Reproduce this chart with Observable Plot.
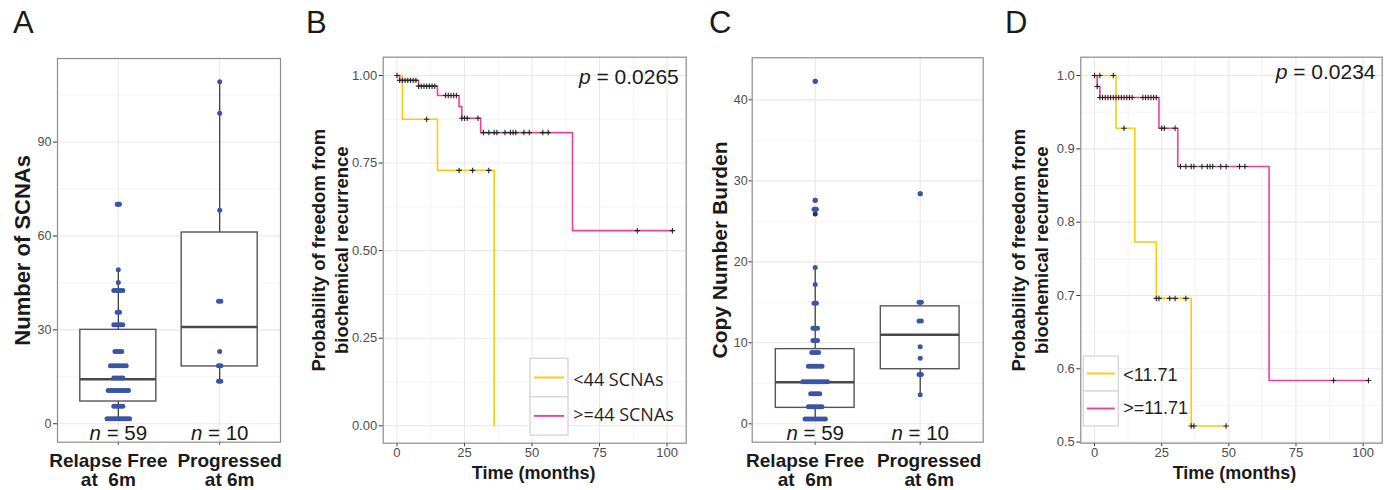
<!DOCTYPE html>
<html><head><meta charset="utf-8">
<script src="https://cdn.jsdelivr.net/npm/d3@7"></script>
<script src="https://cdn.jsdelivr.net/npm/@observablehq/plot@0.6"></script>
<style>
html,body{margin:0;padding:0;background:#fff;}
#root{position:relative;width:1390px;height:490px;overflow:hidden;}
#root > svg{position:absolute;top:0;}
#root text{white-space:pre;}
</style></head><body><div id="root"></div>
<script>
// ---------------- DATA ----------------
const panelLetters = ["A", "B", "C", "D"];
const boxCategories = ["Relapse Free\nat  6m", "Progressed\nat 6m"];

// Panel A: number of SCNAs (dot values, binned as drawn)
const scnaRelapse = [1.6,1.6,1.6,1.6,1.6,1.6,1.6,1.6,1.6,1.6,1.6,
  5.6,5.6,5.6,5.6,5.6,
  10.6,10.6,10.6,10.6,10.6,10.6,10.6,10.6,10.6,10.6,
  14.6,14.6,14.6,14.6,14.6,
  18.5,18.5,18.5,18.5,18.5,18.5,18.5,18.5,
  23.1,23.1,23.1,23.1,
  31.6,31.6,31.6,31.6,31.6,
  35.6,35.6,
  42.6,42.6,42.6,42.6,42.6,
  45.1,49.2,70.1,70.1];
const scnaProgressed = [13.6,13.6,18.5,18.5,23.1,39.1,39.1,68.2,99.2,109.3];
const scnaQ1 = [7.1, 18.3];
const scnaMedian = [14.2, 30.9];
const scnaQ3 = [30.0, 61.1];
const scnaWhiskerLow = [1.6, 13.6];
const scnaWhiskerHigh = [49.2, 109.3];
const scnaOutliers = [[70.1], []];
const scnaYTicks = [0, 30, 60, 90];
const scnaYMinor = [15, 45, 75, 105];

// Panel C: copy number burden
const cnbRelapse = [0.6,0.6,0.6,0.6,0.6,0.6,0.6,0.6,0.6,0.6,
  2.1,2.1,2.1,2.1,2.1,2.1,2.1,
  3.7,3.7,3.7,3.7,3.7,
  5.2,5.2,5.2,5.2,5.2,5.2,5.2,5.2,5.2,5.2,5.2,5.2,
  7.1,7.1,7.1,7.1,7.1,7.1,7.1,
  8.8,8.8,8.8,8.8,
  10.3,10.3,10.3,
  11.8,11.8,11.8,
  14.9,14.9,17.2,19.3,26.5,26.5,27.6,42.3];
const cnbProgressed = [3.6,6.1,6.1,8.1,9.5,12.7,12.7,15.0,15.0,28.4];
const cnbQ1 = [1.97, 6.74];
const cnbMedian = [5.14, 11.0];
const cnbQ3 = [9.22, 14.5];
const cnbWhiskerLow = [0.6, 3.6];
const cnbWhiskerHigh = [19.3, 15.0];
const cnbOutliers = [[25.9, 26.5, 27.6, 42.3], [28.4]];
const cnbYTicks = [0, 10, 20, 30, 40];
const cnbYMinor = [5, 15, 25, 35];

// Panel B: Kaplan-Meier by SCNA count
const groupsB = ["<44 SCNAs", ">=44 SCNAs"];
const timeLowB = [0, 2, 15, 36];
const survLowB = [1, 0.875, 0.729, 0];
const censorLowB = [11, 23, 28, 34];
const timeHighB = [0, 1, 8, 15, 23, 24, 31, 65, 102];
const survHighB = [1, 0.986, 0.9695, 0.943, 0.911, 0.878, 0.837, 0.557, 0.557];
const censorHighB = [0,1,2,3,4,5,6,7,8,9,10,11,12,13,14,18,19,20,21,22,24,25,26,30,32,34,36,37,40,42,43,44,47,49,54,56,89,102];
const pValueB = "0.0265";
const yTicksB = [0, 0.25, 0.5, 0.75, 1];
const yMinorB = [0.125, 0.375, 0.625, 0.875];

// Panel D: Kaplan-Meier by copy number burden
const groupsD = ["<11.71", ">=11.71"];
const timeLowD = [0, 8, 15, 23, 36, 49];
const survLowD = [1, 0.928, 0.773, 0.696, 0.522, 0.522];
const censorLowD = [2, 7, 11, 23, 24, 28, 30, 34, 36, 37, 49];
const timeHighD = [0, 1, 2, 24, 31, 65, 102];
const survHighD = [1, 0.985, 0.970, 0.928, 0.876, 0.584, 0.584];
const censorHighD = [0,1,2,3,4,5,6,7,8,9,10,11,12,13,14,18,19,20,21,22,23,25,26,30,32,34,36,37,40,42,43,44,47,49,54,56,89,102];
const pValueD = "0.0234";
const yTicksD = [0.5, 0.6, 0.7, 0.8, 0.9, 1.0];
const yMinorD = [0.55, 0.65, 0.75, 0.85, 0.95];

const timeTicks = [0, 25, 50, 75, 100];
const timeMinor = [12.5, 37.5, 62.5, 87.5];

// ---------------- STYLE ----------------
const H = 490;
const FONT = '"Liberation Sans", Arial, Helvetica, sans-serif';
const YELLOW = "#FDCA0C", PINK = "#EF4199", DOT = "#3A55A6";
const ctx = document.createElement("canvas").getContext("2d");
function tw(s, font) { ctx.font = font; return ctx.measureText(s).width; }

function stackDots(values, center, unitPx, spacingPx) {
  const out = [];
  for (const [v, arr] of d3.group(values, v => v)) {
    const n = arr.length;
    arr.forEach((_, i) => out.push({x: center + (i - (n - 1) / 2) * spacingPx / unitPx, y: v}));
  }
  return out;
}

function boxPanel(o) {
  const unit = (o.width - o.ml - o.mr) / 2.2;
  const half = 0.375;
  const stats = boxCategories.map((c, i) => ({x: i + 1, label: c, q1: o.q1[i], med: o.med[i], q3: o.q3[i], lo: o.lo[i], hi: o.hi[i], n: o.groups[i].length}));
  const dots = o.groups.flatMap((vals, i) => stackDots(vals, i + 1, unit, 2.25));
  const outl = o.outliers.flatMap((vals, i) => vals.map(v => ({x: i + 1, y: v})));
  const nf = 20.5;
  const nMarks = stats.flatMap(s => {
    const rest = `= ${s.n}`;
    const wN = tw("n", `italic ${nf}px "Liberation Sans"`);
    const wS = tw(" ", `${nf}px "Liberation Sans"`);
    const wR = tw(rest, `${nf}px "Liberation Sans"`);
    const nEnd = -(wN + wS + wR) / 2 + wN;
    return [
      Plot.text([s], {x: "x", text: () => "n", frameAnchor: "bottom", lineAnchor: "bottom", dy: -1.8, dx: nEnd, textAnchor: "end", fontStyle: "italic", fontSize: nf, fill: "#1a1a1a"}),
      Plot.text([s], {x: "x", text: () => rest, frameAnchor: "bottom", lineAnchor: "bottom", dy: -1.8, dx: nEnd + wS, textAnchor: "start", fontSize: nf, fill: "#1a1a1a"})
    ];
  });
  return Plot.plot({
    width: o.width, height: H, marginLeft: o.ml, marginRight: o.mr, marginTop: o.mt, marginBottom: o.mb,
    x: {domain: [0.4, 2.6]}, y: {domain: o.yDomain},
    style: {fontFamily: FONT, background: "transparent", overflow: "visible"},
    marks: [
      Plot.gridY(o.yMinor, {stroke: "#f3f3f3", strokeOpacity: 1, strokeWidth: 0.9}),
      Plot.gridY(o.yTicks, {stroke: "#e9e9e9", strokeOpacity: 1, strokeWidth: 1.1}),
      Plot.gridX([1, 2], {stroke: "#e9e9e9", strokeOpacity: 1, strokeWidth: 1.1}),
      Plot.ruleX(stats, {x: "x", y1: "q3", y2: "hi", stroke: "#333", strokeWidth: 1.2}),
      Plot.ruleX(stats, {x: "x", y1: "lo", y2: "q1", stroke: "#333", strokeWidth: 1.2}),
      Plot.rect(stats, {x1: d => d.x - half, x2: d => d.x + half, y1: "q1", y2: "q3", fill: "white", stroke: "#555", strokeWidth: 1.4}),
      Plot.ruleY(stats, {y: "med", x1: d => d.x - half, x2: d => d.x + half, stroke: "#484848", strokeWidth: 2.6}),
      Plot.dot(outl, {x: "x", y: "y", r: 2.5, fill: "#333", stroke: "none"}),
      Plot.dot(dots, {x: "x", y: "y", r: 2.5, fill: DOT, stroke: "none"}),
      Plot.axisY(o.yTicks, {tickSize: o.tickSize, tickPadding: o.tickPad, fontSize: o.tickFont, fill: "#4d4d4d", stroke: "#333", label: null}),
      Plot.axisX([1, 2], {tickSize: 3, tickFormat: () => "", stroke: "#333", label: null}),
      Plot.text([stats[0]], {x: "x", text: "label", frameAnchor: "bottom", lineAnchor: "top", dy: 11, dx: o.labelDx[0], fontSize: 19, fontWeight: "bold", fill: "#1a1a1a", lineHeight: 1.02}),
      Plot.text([stats[1]], {x: "x", text: "label", frameAnchor: "bottom", lineAnchor: "top", dy: 11, dx: o.labelDx[1], fontSize: 19, fontWeight: "bold", fill: "#1a1a1a", lineHeight: 1.02}),
      ...nMarks,
      Plot.text([o.yTitle], {text: d => d, frameAnchor: "left", textAnchor: "middle", lineAnchor: "middle", rotate: -90, dx: o.titleDx, fontSize: o.titleSize, fontWeight: "bold", fill: "#1a1a1a"}),
      Plot.frame({stroke: "#8c8c8c", strokeWidth: 1.2})
    ]
  });
}

function survAt(times, surv, t) {
  let s = surv[0];
  for (let i = 0; i < times.length; i++) if (times[i] <= t) s = surv[i];
  return s;
}

function kmPanel(o) {
  const curve = (times, surv, g) => times.map((t, i) => ({t, s: surv[i], g}));
  const lowLine = curve(o.tLow, o.sLow, 0), highLine = curve(o.tHigh, o.sHigh, 1);
  const cens = [
    ...o.cLow.map(t => ({t, s: survAt(o.tLow, o.sLow, t)})),
    ...o.cHigh.map(t => ({t, s: survAt(o.tHigh, o.sHigh, t)}))
  ];
  const pf = 21;
  const rest = `= ${o.p}`;
  const wR = tw(rest, `${pf}px "Liberation Sans"`);
  const wS = tw(" ", `${pf}px "Liberation Sans"`);
  return Plot.plot({
    width: o.width, height: H, marginLeft: o.ml, marginRight: o.mr, marginTop: o.mt, marginBottom: o.mb,
    x: {domain: [-5.1, 107.1]}, y: {domain: o.yDomain},
    style: {fontFamily: FONT, background: "transparent", overflow: "visible"},
    marks: [
      Plot.gridY(o.yMinor, {stroke: "#f3f3f3", strokeOpacity: 1, strokeWidth: 0.9}),
      Plot.gridX(timeMinor, {stroke: "#f3f3f3", strokeOpacity: 1, strokeWidth: 0.9}),
      Plot.gridY(o.yTicks, {stroke: "#e9e9e9", strokeOpacity: 1, strokeWidth: 1.1}),
      Plot.gridX(timeTicks, {stroke: "#e9e9e9", strokeOpacity: 1, strokeWidth: 1.1}),
      Plot.line(lowLine, {x: "t", y: "s", curve: "step-after", stroke: YELLOW, strokeWidth: 1.6}),
      Plot.line(highLine, {x: "t", y: "s", curve: "step-after", stroke: PINK, strokeWidth: 1.6}),
      Plot.dot(cens, {x: "t", y: "s", symbol: "plus", r: 1.9, fill: "none", stroke: "#262626", strokeWidth: 1.1}),
      Plot.axisY(o.yTicks, {tickSize: 4, tickPadding: 2, fontSize: 13, fill: "#4d4d4d", stroke: "#333", label: null, tickFormat: d3.format(o.fmt)}),
      Plot.axisX(timeTicks, {tickSize: 3.5, tickPadding: 1.5, fontSize: 13, fill: "#4d4d4d", stroke: "#333", label: null}),
      Plot.text(["Time (months)"], {text: d => d, frameAnchor: "bottom", lineAnchor: "bottom", dy: 35.3, dx: o.timeDx, fontSize: 18, fontWeight: "bold", fill: "#1a1a1a"}),
      Plot.text([rest], {text: d => d, frameAnchor: "top-right", lineAnchor: "bottom", textAnchor: "end", dy: o.pDy, dx: -o.pRight, fontSize: pf, fill: "#1a1a1a"}),
      Plot.text(["p"], {text: d => d, frameAnchor: "top-right", lineAnchor: "bottom", textAnchor: "end", dy: o.pDy, dx: -o.pRight - wR - wS, fontSize: pf, fontStyle: "italic", fill: "#1a1a1a"}),
      Plot.text(["Probability of freedom from\nbiochemical recurrence"], {text: d => d, frameAnchor: "left", textAnchor: "middle", lineAnchor: "middle", rotate: -90, dx: o.titleDx, fontSize: 18.5, fontWeight: "bold", lineHeight: 1.24, fill: "#1a1a1a"}),
      Plot.frame({stroke: "#8c8c8c", strokeWidth: 1.2})
    ]
  });
}

// ---------------- BUILD ----------------
const root = document.getElementById("root");
function place(svg, left) { svg.style.left = left + "px"; root.appendChild(svg); }

place(boxPanel({width: 290, ml: 57, mr: 10, mt: 58, mb: 48.3, yDomain: [-5.9, 116.7],
  yTicks: scnaYTicks, yMinor: scnaYMinor, tickFont: 12.5, tickSize: 4, tickPad: 2,
  q1: scnaQ1, med: scnaMedian, q3: scnaQ3, lo: scnaWhiskerLow, hi: scnaWhiskerHigh,
  groups: [scnaRelapse, scnaProgressed], outliers: scnaOutliers,
  yTitle: "Number of SCNAs", titleDx: -35, titleSize: 22, labelDx: [-10, 10]}), 0);

place(kmPanel({width: 400, ml: 92.7, mr: 4.3, mt: 56.7, mb: 47.3, yDomain: [-0.0497, 1.0522],
  yTicks: yTicksB, yMinor: yMinorB, fmt: ".2f",
  tLow: timeLowB, sLow: survLowB, cLow: censorLowB, tHigh: timeHighB, sHigh: survHighB, cHigh: censorHighB,
  p: pValueB, pDy: 26.6, pRight: 7.4, titleDx: -54, timeDx: -1}), 290);

place(boxPanel({width: 310, ml: 61.7, mr: 17.3, mt: 57.3, mb: 48.3, yDomain: [-2.27, 45.19],
  yTicks: cnbYTicks, yMinor: cnbYMinor, tickFont: 12.5, tickSize: 3, tickPad: 1.5,
  q1: cnbQ1, med: cnbMedian, q3: cnbQ3, lo: cnbWhiskerLow, hi: cnbWhiskerHigh,
  groups: [cnbRelapse, cnbProgressed], outliers: cnbOutliers,
  yTitle: "Copy Number Burden", titleDx: -31.7, titleSize: 21, labelDx: [-10, 9]}), 690);

place(kmPanel({width: 390, ml: 80.3, mr: 8.3, mt: 56.7, mb: 47.3, yDomain: [0.4985, 1.025],
  yTicks: yTicksD, yMinor: yMinorD, fmt: ".1f",
  tLow: timeLowD, sLow: survLowD, cLow: censorLowD, tHigh: timeHighD, sHigh: survHighD, cHigh: censorHighD,
  p: pValueD, pDy: 21.3, pRight: 6.7, titleDx: -51.6, timeDx: 3}), 1000);

// overlay: panel letters and legends
const ov = d3.create("svg").attr("width", 1390).attr("height", H).style("left", "0px").style("pointer-events", "none");
const letterX = [13, 306, 709, 1005];
panelLetters.forEach((L, i) => ov.append("text").attr("x", letterX[i]).attr("y", 33)
  .attr("font-family", FONT).attr("font-size", 31).attr("fill", "#1a1a1a").text(L));

function legend(g, x, y, w, h, lineInset, textX, baselines, labels, font, fsize) {
  [YELLOW, PINK].forEach((c, i) => {
    g.append("rect").attr("x", x).attr("y", y + i * h).attr("width", w).attr("height", h)
      .attr("fill", "white").attr("stroke", "#d6d6d6").attr("stroke-width", 1.3);
    g.append("line").attr("x1", x + lineInset).attr("x2", x + w - lineInset)
      .attr("y1", y + i * h + h / 2).attr("y2", y + i * h + h / 2).attr("stroke", c).attr("stroke-width", 1.9);
    g.append("text").attr("x", textX).attr("y", baselines[i]).attr("font-family", font)
      .attr("font-size", fsize).attr("fill", "#1f1f1f").text(labels[i]);
  });
}
legend(ov, 530, 358.3, 38, 38.4, 4, 573.3, [385.7, 420.7], groupsB, '"Open Sans", sans-serif', 18);
legend(ov, 1083.3, 356, 35, 35, 3.5, 1123.3, [381, 414], groupsD, FONT, 18);
root.appendChild(ov.node());
</script></body></html>
